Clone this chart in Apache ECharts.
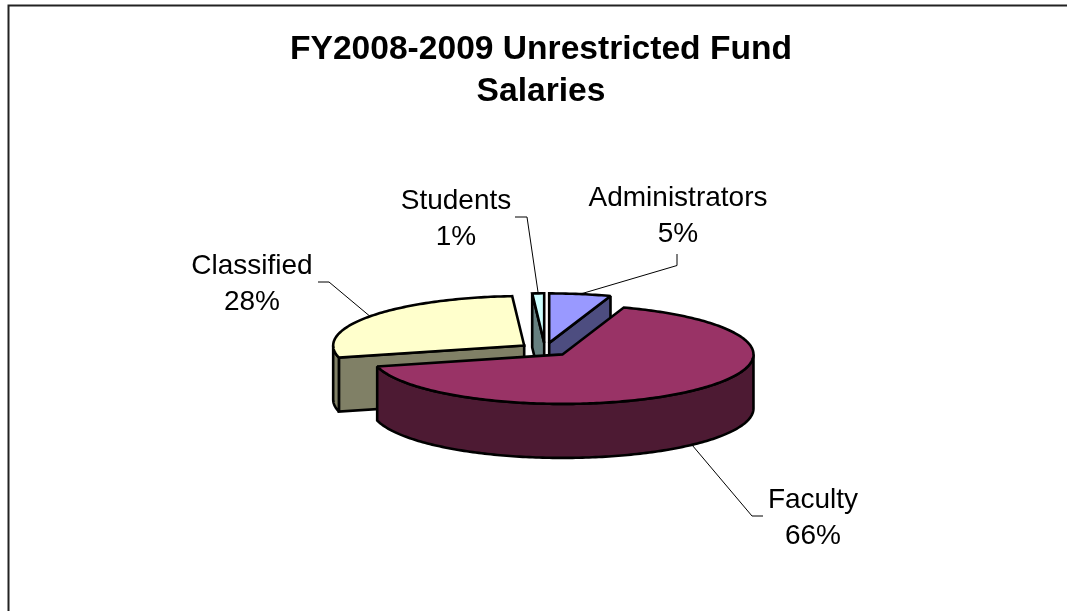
<!DOCTYPE html>
<html>
<head>
<meta charset="utf-8">
<title>FY2008-2009 Unrestricted Fund Salaries</title>
<style>
  html, body { margin: 0; padding: 0; background: #fff; }
  #main { width: 1067px; height: 611px; }
</style>
<script src="https://cdn.jsdelivr.net/npm/echarts@6/dist/echarts.min.js"></script>
</head>
<body>
<div id="main"></div>
<script>
// data, clockwise from 12 o'clock
const categories = ['Administrators', 'Faculty', 'Classified', 'Students']
const shares = [5.2, 65.9, 27.9, 1.0]

// look of the slices: top colour, side colour
const topColors = ['#9999ff', '#993366', '#ffffcc', '#ccffff']
const sideColors = ['#4d4d80', '#4d1a33', '#808066', '#668080']

// back to front
const paintOrder = [0, 3, 2, 1]

// 3d pie geometry
const pie = { cx: 545, cy: 349.5, a: 191, b: 49.5, depth: 54, explode: 0.135 }

// label centre and where the leader line elbow sits, per category
const labelPos = [
  { x: 678, y: 216, elbow: [[677, 254], [677, 265.5]] },
  { x: 813, y: 518, elbow: [[763, 516], [752, 516]] },
  { x: 252, y: 284, elbow: [[318, 282], [329, 282]] },
  { x: 456, y: 219, elbow: [[515, 217], [527, 217]] }
]

const total = shares.reduce((s, v) => s + v, 0)
const rad = d => d * Math.PI / 180

// start and end angle of each slice, degrees clockwise from the top
let acc = 0
const angles = shares.map(v => {
  const start = acc
  acc += v / total * 360
  return [start, acc]
})

// project a point of the circle on the tilted ellipse
function rim (c, deg, drop) {
  return [c[0] + pie.a * Math.sin(rad(deg)), c[1] - pie.b * Math.cos(rad(deg)) + (drop || 0)]
}

function arc (c, from, to, drop) {
  const pts = []
  for (let d = from; d < to; d += 1) pts.push(rim(c, d, drop))
  pts.push(rim(c, to, drop))
  return pts
}

function face (c, deg, fill) {
  const p = rim(c, deg)
  return poly([p, c, [c[0], c[1] + pie.depth], [p[0], p[1] + pie.depth]], fill)
}

function poly (points, fill) {
  return {
    type: 'polygon',
    shape: { points },
    style: { fill, stroke: '#000', lineWidth: 2.6, lineJoin: 'miter', miterLimit: 2 }
  }
}

function renderSlice (params, api) {
  const i = api.value(0)
  const [start, end] = angles[i]
  const mid = (start + end) / 2
  const c = [
    pie.cx + pie.a * pie.explode * Math.sin(rad(mid)),
    pie.cy - pie.b * pie.explode * Math.cos(rad(mid))
  ]
  const children = []

  // leader line ends on the rim at the middle of the slice
  const front = mid > 90 && mid < 270
  const lab = labelPos[i]
  children.push({
    type: 'polyline',
    shape: { points: lab.elbow.concat([rim(c, mid, front ? pie.depth : 0)]) },
    style: { fill: null, stroke: '#000', lineWidth: 1 }
  })

  // cut faces only show when they turn towards the viewer
  if (Math.sin(rad(start)) < -0.001) children.push(face(c, start, sideColors[i]))
  if (Math.sin(rad(end)) > 0.001) children.push(face(c, end, sideColors[i]))

  // outer wall, front half of the rim
  const wallFrom = Math.max(start, 90)
  const wallTo = Math.min(end, 270)
  if (wallFrom < wallTo) {
    children.push(poly(arc(c, wallFrom, wallTo).concat(arc(c, wallFrom, wallTo, pie.depth).reverse()), sideColors[i]))
  }

  children.push(poly([c].concat(arc(c, start, end)), topColors[i]))

  children.push({
    type: 'text',
    style: {
      text: categories[i] + '\n' + Math.round(api.value(1) / total * 100) + '%',
      x: lab.x,
      y: lab.y,
      align: 'center',
      verticalAlign: 'middle',
      fill: '#000',
      font: '28px "Liberation Sans", Arial, sans-serif',
      lineHeight: 36
    }
  })
  return { type: 'group', children }
}

const chart = echarts.init(document.getElementById('main'), null, { renderer: 'canvas' })
chart.setOption({
  animation: false,
  backgroundColor: '#fff',
  title: {
    text: 'FY2008-2009 Unrestricted Fund\nSalaries',
    left: 536,
    top: 24,
    textAlign: 'center',
    textStyle: {
      fontFamily: '"Liberation Sans", Arial, sans-serif',
      fontSize: 33.6,
      fontWeight: 'bold',
      color: '#000',
      lineHeight: 42
    }
  },
  graphic: [{
    type: 'polyline',
    shape: { points: [[1067, 5.5], [8.5, 5.5], [8.5, 611]] },
    style: { fill: null, stroke: '#222', lineWidth: 2 }
  }],
  series: [{
    type: 'custom',
    coordinateSystem: 'none',
    renderItem: renderSlice,
    data: paintOrder.map(i => [i, shares[i]])
  }]
})
</script>
</body>
</html>
